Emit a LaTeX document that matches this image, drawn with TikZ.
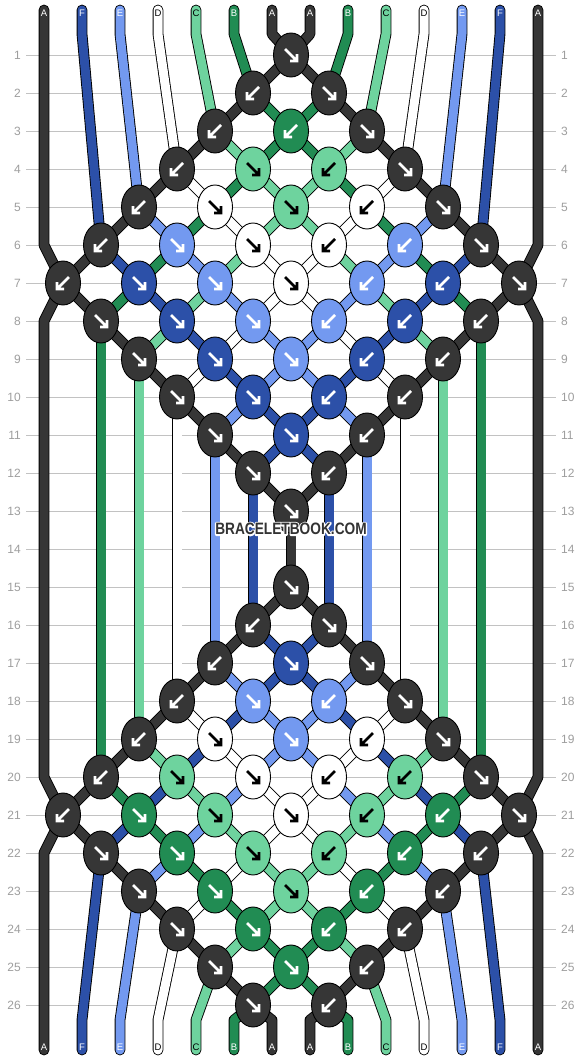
\documentclass[tikz,border=0pt]{standalone}
\usepackage{fontspec}
\setmainfont{Liberation Sans}
\usetikzlibrary{shapes.geometric}
\definecolor{colA}{HTML}{363636}
\definecolor{colB}{HTML}{218C53}
\definecolor{colC}{HTML}{6ED39E}
\definecolor{colD}{HTML}{FFFFFF}
\definecolor{colE}{HTML}{7399F0}
\definecolor{colF}{HTML}{2C50A8}
\colorlet{arrA}{white}
\colorlet{arrB}{white}
\colorlet{arrC}{black}
\colorlet{arrD}{black}
\colorlet{arrE}{white}
\colorlet{arrF}{white}
\definecolor{gridgray}{HTML}{C2C2C2}
\definecolor{numgray}{HTML}{9E9E9E}
\definecolor{markgray}{HTML}{333333}
\pgfdeclarelayer{grid}
\pgfdeclarelayer{threads}
\pgfsetlayers{grid,threads,main}
\tikzset{
    thread/.style={draw=black, line width=0.9pt, double=col#1, double distance=9pt,
        line cap=round, line join=round},
    knot/.style={ellipse, draw=black, line width=0.9pt, fill=col#1,
        minimum width=35pt, minimum height=44pt, inner sep=0pt},
    tipline/.style={draw=arr#1, line width=2.6pt, line cap=butt, line join=miter},
    rowline/.style={draw=gridgray, line width=0.8pt},
    rownum/.style={text=numgray, font=\fontsize{12}{12}\selectfont, inner sep=0pt},
    tag/.style={text=arr#1, font=\fontsize{9.5}{10}\selectfont, inner sep=0pt},
    marktext/.style={font=\fontsize{16.5}{17}\selectfont\bfseries, inner sep=1pt},
}
% watermark text with a white rim (stroked copy under the filled one)
\newcommand{\haloword}[1]{\scalebox{0.83}[1]{\rlap{\special{pdf:literal direct 1 Tr 3 w 1 1 1 RG 1 j}#1\special{pdf:literal direct 0 Tr}}#1}}

\begin{document}
\begin{tikzpicture}[x=1pt, y=-1pt]
    \useasboundingbox (0,0) rectangle (582,1060);
    % Background, row lines and row numbers
    \begin{pgfonlayer}{grid}
        \fill[white] (0,0) rectangle (582,1060);
        \foreach \r in {1,...,26} {
            \draw[rowline] (26,{17+38*\r}) -- (556,{17+38*\r});
            \node[rownum, anchor=east] (ln\r) at (21,{17+38*\r}) {\r};
            \node[rownum, anchor=west] (rn\r) at (561,{17+38*\r}) {\r};
        }
    \end{pgfonlayer}
    % Knots: row / column / direction / colour
    \foreach \r/\k/\d/\c in {
        1/6/1/A,
        2/5/-1/A, 2/7/1/A,
        3/4/-1/A, 3/6/-1/B, 3/8/1/A,
        4/3/-1/A, 4/5/1/C, 4/7/-1/C, 4/9/1/A,
        5/2/-1/A, 5/4/1/D, 5/6/1/C, 5/8/-1/D, 5/10/1/A,
        6/1/-1/A, 6/3/1/E, 6/5/1/D, 6/7/-1/D, 6/9/-1/E, 6/11/1/A,
        7/0/-1/A, 7/2/1/F, 7/4/1/E, 7/6/1/D, 7/8/-1/E, 7/10/-1/F, 7/12/1/A,
        8/1/1/A, 8/3/1/F, 8/5/1/E, 8/7/-1/E, 8/9/-1/F, 8/11/-1/A,
        9/2/1/A, 9/4/1/F, 9/6/1/E, 9/8/-1/F, 9/10/-1/A,
        10/3/1/A, 10/5/1/F, 10/7/-1/F, 10/9/-1/A,
        11/4/1/A, 11/6/1/F, 11/8/-1/A,
        12/5/1/A, 12/7/-1/A,
        13/6/1/A,
        15/6/1/A,
        16/5/-1/A, 16/7/1/A,
        17/4/-1/A, 17/6/1/F, 17/8/1/A,
        18/3/-1/A, 18/5/1/E, 18/7/-1/E, 18/9/1/A,
        19/2/-1/A, 19/4/1/D, 19/6/1/E, 19/8/-1/D, 19/10/1/A,
        20/1/-1/A, 20/3/1/C, 20/5/1/D, 20/7/-1/D, 20/9/-1/C, 20/11/1/A,
        21/0/-1/A, 21/2/1/B, 21/4/1/C, 21/6/1/D, 21/8/-1/C, 21/10/-1/B, 21/12/1/A,
        22/1/1/A, 22/3/1/B, 22/5/1/C, 22/7/-1/C, 22/9/-1/B, 22/11/-1/A,
        23/2/1/A, 23/4/1/B, 23/6/1/C, 23/8/-1/B, 23/10/-1/A,
        24/3/1/A, 24/5/1/B, 24/7/-1/B, 24/9/-1/A,
        25/4/1/A, 25/6/1/B, 25/8/-1/A,
        26/5/1/A, 26/7/-1/A} {
        \node[knot=\c] (k\r-\k) at ({63+38*\k},{17+38*\r}) {};
        \draw[tipline=\c, shift={(k\r-\k.center)}, xscale=\d]
            (-6,-6) -- (5,5) (6,-1) -- (6,6) -- (-1,6);
    }
    \begin{pgfonlayer}{threads}
        % Threads from knot to knot: row / column / column below / colour
        \foreach \r/\k/\kk/\c in {
            1/6/5/A, 1/6/7/A,
            2/5/4/A, 2/5/6/B, 2/7/6/B, 2/7/8/A,
            3/4/3/A, 3/4/5/C, 3/6/5/B, 3/6/7/B, 3/8/7/C, 3/8/9/A,
            4/3/2/A, 4/3/4/D, 4/5/4/B, 4/5/6/C, 4/7/6/C, 4/7/8/B, 4/9/8/D, 4/9/10/A,
            5/2/1/A, 5/2/3/E, 5/4/3/B, 5/4/5/D, 5/6/5/C, 5/6/7/C, 5/8/7/D, 5/8/9/B, 5/10/9/E, 5/10/11/A,
            6/1/0/A, 6/1/2/F, 6/3/2/B, 6/3/4/E, 6/5/4/C, 6/5/6/D, 6/7/6/D, 6/7/8/C, 6/9/8/E, 6/9/10/B, 6/11/10/F, 6/11/12/A,
            7/0/1/A, 7/2/1/B, 7/2/3/F, 7/4/3/C, 7/4/5/E, 7/6/5/D, 7/6/7/D, 7/8/7/E, 7/8/9/C, 7/10/9/F, 7/10/11/B, 7/12/11/A,
            8/1/2/A, 8/3/2/C, 8/3/4/F, 8/5/4/D, 8/5/6/E, 8/7/6/E, 8/7/8/D, 8/9/8/F, 8/9/10/C, 8/11/10/A,
            9/2/3/A, 9/4/3/D, 9/4/5/F, 9/6/5/E, 9/6/7/E, 9/8/7/F, 9/8/9/D, 9/10/9/A,
            10/3/4/A, 10/5/4/E, 10/5/6/F, 10/7/6/F, 10/7/8/E, 10/9/8/A,
            11/4/5/A, 11/6/5/F, 11/6/7/F, 11/8/7/A,
            12/5/6/A, 12/7/6/A,
            15/6/5/A, 15/6/7/A,
            16/5/4/A, 16/5/6/F, 16/7/6/F, 16/7/8/A,
            17/4/3/A, 17/4/5/E, 17/6/5/F, 17/6/7/F, 17/8/7/E, 17/8/9/A,
            18/3/2/A, 18/3/4/D, 18/5/4/F, 18/5/6/E, 18/7/6/E, 18/7/8/F, 18/9/8/D, 18/9/10/A,
            19/2/1/A, 19/2/3/C, 19/4/3/F, 19/4/5/D, 19/6/5/E, 19/6/7/E, 19/8/7/D, 19/8/9/F, 19/10/9/C, 19/10/11/A,
            20/1/0/A, 20/1/2/B, 20/3/2/F, 20/3/4/C, 20/5/4/E, 20/5/6/D, 20/7/6/D, 20/7/8/E, 20/9/8/C, 20/9/10/F, 20/11/10/B, 20/11/12/A,
            21/0/1/A, 21/2/1/F, 21/2/3/B, 21/4/3/E, 21/4/5/C, 21/6/5/D, 21/6/7/D, 21/8/7/C, 21/8/9/E, 21/10/9/B, 21/10/11/F, 21/12/11/A,
            22/1/2/A, 22/3/2/E, 22/3/4/B, 22/5/4/D, 22/5/6/C, 22/7/6/C, 22/7/8/D, 22/9/8/B, 22/9/10/E, 22/11/10/A,
            23/2/3/A, 23/4/3/D, 23/4/5/B, 23/6/5/C, 23/6/7/C, 23/8/7/B, 23/8/9/D, 23/10/9/A,
            24/3/4/A, 24/5/4/C, 24/5/6/B, 24/7/6/B, 24/7/8/C, 24/9/8/A,
            25/4/5/A, 25/6/5/B, 25/6/7/B, 25/8/7/A} {
            \pgfmathtruncatemacro\rr{\r+1}
            \draw[thread=\c] (k\r-\k.center) -- (k\rr-\kk.center);
        }
        % Threads hanging between the two halves
        \foreach \ra/\k/\rb/\c in {8/1/20/B, 9/2/19/C, 10/3/18/D, 11/4/17/E, 12/5/16/F,
            13/6/15/A, 12/7/16/F, 11/8/17/E, 10/9/18/D, 9/10/19/C, 8/11/20/B} {
            \draw[thread=\c] (k\ra-\k.center) -- (k\rb-\k.center);
        }
        % Threads coming in at the top
        \foreach \p/\r/\k/\c in {1/6/1/F, 2/5/2/E, 3/4/3/D, 4/3/4/C, 5/2/5/B, 6/1/6/A,
            7/1/6/A, 8/2/7/B, 9/3/8/C, 10/4/9/D, 11/5/10/E, 12/6/11/F} {
            \coordinate (t\p) at ({44+38*\p},10);
            \draw[thread=\c] (t\p) -- ++(0,24) -- (k\r-\k.center);
        }
        % Threads going out at the bottom
        \foreach \p/\r/\k/\c in {1/22/1/F, 2/23/2/E, 3/24/3/D, 4/25/4/C, 5/26/5/B, 6/26/5/A,
            7/26/7/A, 8/26/7/B, 9/25/8/C, 10/24/9/D, 11/23/10/E, 12/22/11/F} {
            \coordinate (b\p) at ({44+38*\p},1050);
            \draw[thread=\c] (k\r-\k.center) -- ([yshift=30pt]b\p) -- (b\p);
        }
        % Outer threads
        \coordinate (t0) at (44,10);
        \coordinate (t13) at (538,10);
        \coordinate (b0) at (44,1050);
        \coordinate (b13) at (538,1050);
        \draw[thread=A] (t0) -- (44,245) -- (k7-0.center) -- (44,321)
            -- (44,777) -- (k21-0.center) -- (44,853) -- (b0);
        \draw[thread=A] (t13) -- (538,245) -- (k7-12.center) -- (538,321)
            -- (538,777) -- (k21-12.center) -- (538,853) -- (b13);
    \end{pgfonlayer}
    % Thread letters
    \foreach \p/\c in {0/A, 1/F, 2/E, 3/D, 4/C, 5/B, 6/A, 7/A, 8/B, 9/C, 10/D, 11/E, 12/F, 13/A} {
        \node[tag=\c] (lt\p) at ({44+38*\p},13) {\c};
        \node[tag=\c] (lb\p) at ({44+38*\p},1047) {\c};
    }
    % Watermark
    \node[marktext, text=markgray] (mark) at (291,529) {\haloword{BRACELETBOOK.COM}};
\end{tikzpicture}
\end{document}
